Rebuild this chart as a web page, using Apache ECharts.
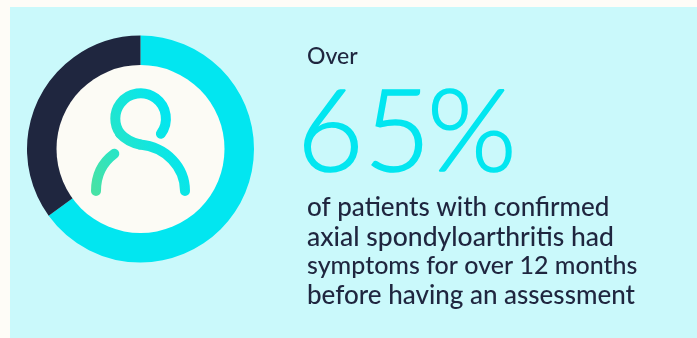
<!DOCTYPE html>
<html>
<head>
<meta charset="utf-8">
<style>html,body{margin:0;padding:0;background:#fefcf7}#c{width:697px;height:338px}</style>
<script src="https://cdn.jsdelivr.net/npm/echarts@6/dist/echarts.min.js"></script>
</head>
<body>
<div id="c"></div>
<script>
const categories = ['Over 12 months', 'Up to 12 months'];
const shareValues = [65, 35];
const leadText = 'Over';
const bigNumberGlyphs = ['6', '5', '%'];
const bodyLines = [
  'of patients with confirmed',
  'axial spondyloarthritis had',
  'symptoms for over 12 months',
  'before having an assessment'
];
const bodySizes = [26, 26.5, 25, 26];
const sliceColors = ['#02e6f0', '#1f263f'];

const FONT = 'Lato, "Open Sans", sans-serif';
const iconGradient = new echarts.graphic.LinearGradient(96, 191, 185, 150, [
  {offset: 0, color: '#47e2a6'},
  {offset: 0.45, color: '#20e5cf'},
  {offset: 1, color: '#02e6f0'}
], true);
const iconStroke = {fill: 'none', stroke: iconGradient, lineWidth: 10, lineCap: 'round', lineJoin: 'round'};

const chart = echarts.init(document.getElementById('c'), null, {renderer: 'canvas'});

const bigX = [297, 364, 427];
const graphicEls = [
  {type: 'rect', z: -10, silent: true, shape: {x: 10, y: 7, width: 687, height: 331}, style: {fill: '#caf9fb'}},
  {type: 'circle', z: 5, silent: true, shape: {cx: 140.5, cy: 149, r: 84}, style: {fill: '#fcfbf5'}},
  {type: 'arc', z: 6, silent: true, shape: {cx: 140.6, cy: 118.6, r: 25.3, startAngle: 0.64, endAngle: 2.515, clockwise: false}, style: iconStroke},
  {type: 'bezierCurve', z: 6, silent: true, shape: {x1: 120, y1: 133.5, cpx1: 126, cpy1: 140, cpx2: 133, cpy2: 143, x2: 140, y2: 144.5}, style: iconStroke},
  {type: 'bezierCurve', z: 6, silent: true, shape: {x1: 140, y1: 144.5, cpx1: 166, cpy1: 147, cpx2: 185, cpy2: 167, x2: 185, y2: 191}, style: iconStroke},
  {type: 'bezierCurve', z: 6, silent: true, shape: {x1: 114.3, y1: 153.7, cpx1: 103, cpy1: 162, cpx2: 96, cpy2: 175, x2: 96, y2: 191}, style: iconStroke},
  {type: 'text', z: 6, silent: true, x: 307, y: 57,
    style: {text: leadText, fill: '#1f263f', font: '500 23px ' + FONT, textVerticalAlign: 'middle'}}
];
bigNumberGlyphs.forEach(function (g, i) {
  graphicEls.push({type: 'text', z: 6, silent: true, x: bigX[i], y: 134,
    style: {text: g, fill: '#02e6f0', stroke: '#02e6f0', lineWidth: 1.6, lineJoin: 'round', font: '300 115px ' + FONT, textVerticalAlign: 'middle'}});
});
bodyLines.forEach(function (t, i) {
  graphicEls.push({type: 'text', z: 6, silent: true, x: 307, y: 208 + i * 29.2,
    style: {text: t, fill: '#1f263f', font: '500 ' + bodySizes[i] + 'px ' + FONT, textVerticalAlign: 'middle'}});
});

chart.setOption({
  animation: false,
  backgroundColor: '#fefcf7',
  tooltip: {show: false},
  graphic: {elements: graphicEls},
  series: [{
    type: 'pie',
    z: 2,
    silent: true,
    center: [140.5, 149],
    radius: [83, 113.5],
    startAngle: 90,
    clockwise: true,
    label: {show: false},
    labelLine: {show: false},
    itemStyle: {borderWidth: 0},
    data: categories.map(function (c, i) {
      return {name: c, value: shareValues[i], itemStyle: {color: sliceColors[i]}};
    })
  }]
});
</script>
</body>
</html>
